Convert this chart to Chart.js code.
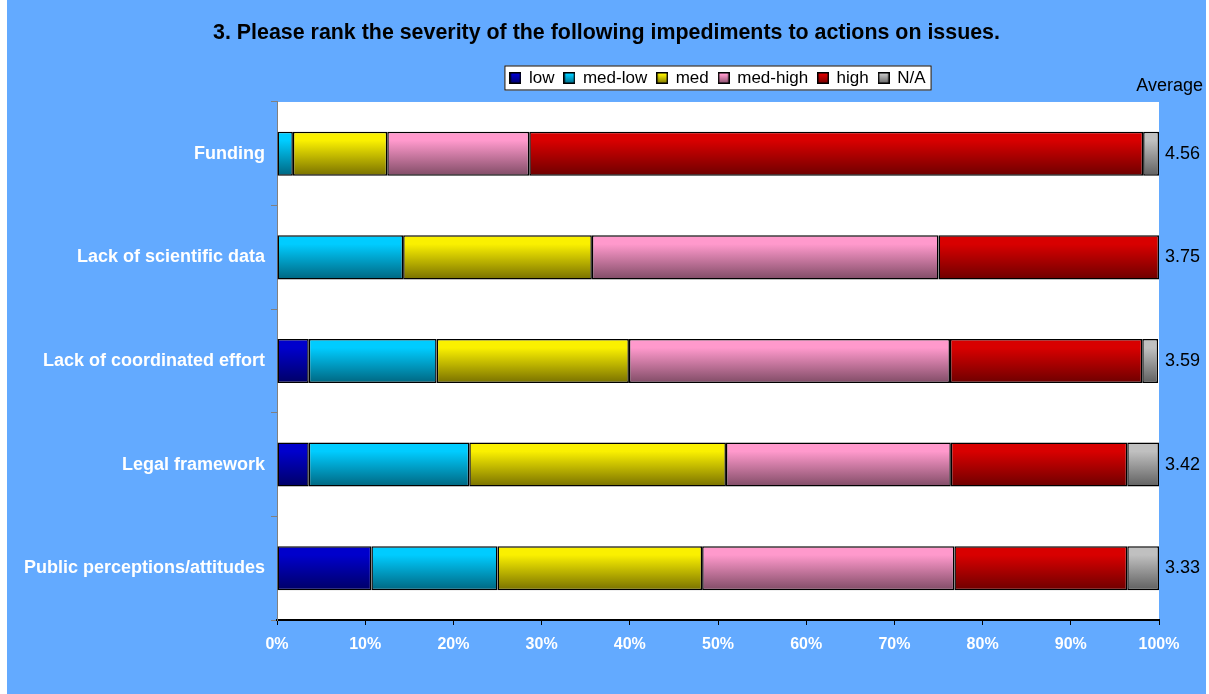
<!DOCTYPE html>
<html>
<head>
<meta charset="utf-8">
<script src="https://cdn.jsdelivr.net/npm/chart.js@4/dist/chart.umd.min.js"></script>
<style>
html,body{margin:0;padding:0;background:#fff;}
#wrap{width:1209px;height:694px;}
</style>
</head>
<body>
<div id="wrap"><canvas id="c" width="1209" height="694"></canvas></div>
<script>
const categories = ['Funding', 'Lack of scientific data', 'Lack of coordinated effort', 'Legal framework', 'Public perceptions/attitudes'];
const averages = ['4.56', '3.75', '3.59', '3.42', '3.33'];
const seriesNames = ['low', 'med-low', 'med', 'med-high', 'high', 'N/A'];
const lowVals     = [0,    0,    3.6,  3.6,  10.7];
const medLowVals  = [1.8,  14.3, 14.5, 18.2, 14.3];
const medVals     = [10.7, 21.4, 21.8, 29.1, 23.2];
const medHighVals = [16.1, 39.3, 36.4, 25.5, 28.6];
const highVals    = [69.6, 25.0, 21.8, 20.0, 19.6];
const naVals      = [1.8,  0,    1.8,  3.6,  3.6];
const xTicks = [0, 10, 20, 30, 40, 50, 60, 70, 80, 90, 100];

const topColors    = ['#0000CC', '#00CCFF', '#FAF000', '#FF99CC', '#D80000', '#C0C0C0'];
const bottomColors = ['#000066', '#006680', '#787000', '#804C66', '#6E0000', '#606060'];
const seriesVals = [lowVals, medLowVals, medVals, medHighVals, highVals, naVals];

const FONT = "'Liberation Sans', Arial, sans-serif";
const BAR_FRAC = 0.425;

function gradFill(i) {
  return (ctx) => {
    const chart = ctx.chart;
    const ys = chart.scales && chart.scales.y;
    if (!ys || ctx.dataIndex === undefined || !chart.chartArea) return topColors[i];
    const c = ys.getPixelForValue(ctx.dataIndex);
    const step = Math.abs(ys.getPixelForValue(1) - ys.getPixelForValue(0));
    const half = step * BAR_FRAC / 2;
    const g = chart.ctx.createLinearGradient(0, c - half, 0, c + half);
    g.addColorStop(0, topColors[i]);
    g.addColorStop(0.2, topColors[i]);
    g.addColorStop(1, bottomColors[i]);
    return g;
  };
}

function legendSwatch(i) {
  const cv = document.createElement('canvas');
  cv.width = 12; cv.height = 12;
  const x = cv.getContext('2d');
  const g = x.createLinearGradient(0, 0, 0, 12);
  g.addColorStop(0, topColors[i]);
  g.addColorStop(0.2, topColors[i]);
  g.addColorStop(1, bottomColors[i]);
  x.fillStyle = g;
  x.fillRect(0, 0, 12, 12);
  x.strokeStyle = '#000';
  x.lineWidth = 1.5;
  x.strokeRect(0.75, 0.75, 10.5, 10.5);
  return cv;
}
const swatches = seriesNames.map((_, i) => legendSwatch(i));

const datasets = seriesNames.map((name, i) => ({
  label: name,
  data: seriesVals[i],
  xAxisID: 'x',
  yAxisID: 'y',
  backgroundColor: gradFill(i),
  borderColor: '#000',
  borderWidth: 1.5,
  borderSkipped: false,
  categoryPercentage: 1,
  barPercentage: BAR_FRAC
}));

const bgPlugin = {
  id: 'bg',
  afterLayout(chart) {
    const lg = chart.legend;
    if (lg && chart.chartArea) {
      lg.left = chart.chartArea.left;
      lg.right = chart.chartArea.right;
    }
  },
  beforeDraw(chart) {
    const c = chart.ctx;
    const a = chart.chartArea;
    c.save();
    c.fillStyle = '#ffffff';
    c.fillRect(0, 0, chart.width, chart.height);
    c.fillStyle = '#63AAFF';
    c.fillRect(7, 0, chart.width - 10, chart.height);
    c.fillStyle = '#ffffff';
    c.fillRect(a.left, a.top, a.right - a.left, a.bottom - a.top);
    const lg = chart.legend;
    if (lg && lg.legendHitBoxes && lg.legendHitBoxes.length) {
      const hb = lg.legendHitBoxes;
      const l = hb[0].left - 6, r = hb[hb.length - 1].left + hb[hb.length - 1].width + 6;
      const t = hb[0].top - 4, b = hb[0].top + hb[0].height + 4;
      c.fillStyle = '#ffffff';
      c.fillRect(l, t, r - l, b - t);
      c.strokeStyle = '#000';
      c.lineWidth = 1;
      c.strokeRect(l + 0.5, t + 0.5, r - l - 1, b - t - 1);
    }
    c.restore();
  },
  afterDraw(chart) {
    const c = chart.ctx;
    const a = chart.chartArea;
    c.save();
    c.fillStyle = '#000';
    c.font = '18px ' + FONT;
    c.textAlign = 'right';
    c.textBaseline = 'middle';
    c.fillText('Average', a.right + 44, a.top - 16);
    c.restore();
  }
};

new Chart(document.getElementById('c'), {
  type: 'bar',
  data: { labels: categories, datasets },
  plugins: [bgPlugin],
  options: {
    indexAxis: 'y',
    responsive: false,
    animation: false,
    layout: { padding: { left: 7, right: 3, top: 0, bottom: 0 } },
    plugins: {
      tooltip: { enabled: false },
      title: {
        display: true,
        text: '3. Please rank the severity of the following impediments to actions on issues.',
        color: '#000',
        font: { family: FONT, size: 21.4, weight: 'bold' },
        padding: { top: 20, bottom: 13.8 }
      },
      legend: {
        display: true,
        position: 'top',
        labels: {
          color: '#000',
          font: { family: FONT, size: 17 },
          usePointStyle: true,
          boxWidth: 10,
          boxHeight: 12,
          padding: 10,
          generateLabels: (chart) => seriesNames.map((n, i) => ({
            text: n,
            pointStyle: swatches[i],
            fillStyle: topColors[i],
            strokeStyle: '#000',
            lineWidth: 1,
            hidden: false,
            datasetIndex: i
          }))
        }
      }
    },
    scales: {
      x: {
        stacked: true,
        min: 0,
        max: 100,
        afterBuildTicks: (s) => { s.ticks = xTicks.map(v => ({ value: v })); },
        ticks: {
          color: '#ffffff',
          font: { family: FONT, size: 16, weight: 'bold' },
          padding: 10,
          maxRotation: 0,
          callback: (v) => v + '%'
        },
        grid: { drawOnChartArea: false, drawTicks: true, tickLength: 5, color: '#000', lineWidth: 1 },
        border: { display: true, color: '#000', width: 2 },
        afterFit: (s) => { s.height = 74; }
      },
      gap: {
        type: 'linear',
        position: 'top',
        display: true,
        ticks: { display: false },
        grid: { display: false, drawTicks: false },
        border: { display: false },
        afterFit: (s) => { s.height = 5.5; }
      },
      y: {
        stacked: true,
        position: 'left',
        offset: true,
        ticks: {
          color: '#ffffff',
          font: { family: FONT, size: 18, weight: 'bold' },
          padding: 6
        },
        grid: { offset: true, drawOnChartArea: false, drawTicks: true, tickLength: 6, color: '#808080' },
        border: { display: true, color: '#808080', width: 1 },
        afterFit: (s) => { s.width = 270; }
      },
      y2: {
        type: 'category',
        labels: averages,
        position: 'right',
        offset: true,
        ticks: {
          color: '#000',
          font: { family: FONT, size: 18 },
          padding: 6
        },
        grid: { display: false, drawTicks: false },
        border: { display: false },
        afterFit: (s) => { s.width = 47; }
      }
    }
  }
});
</script>
</body>
</html>
